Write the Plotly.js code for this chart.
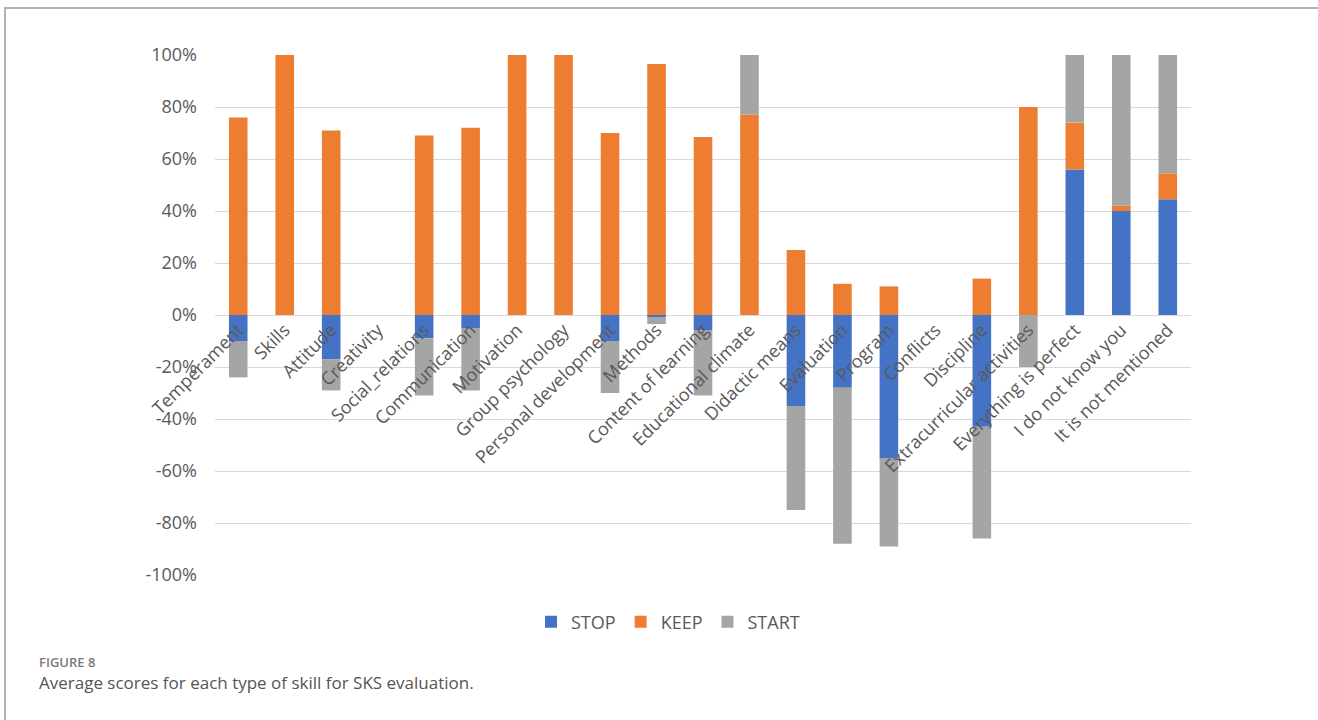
<!DOCTYPE html>
<html>
<head>
<meta charset="utf-8">
<script src="https://cdn.plot.ly/plotly-3.0.1.min.js"></script>
<style>
  html, body { margin: 0; padding: 0; background: #fff; }
  #wrap { position: relative; width: 1318px; height: 720px; }
  #chart { position: absolute; left: 0; top: 0; width: 1318px; height: 720px; }
  #frame { position: absolute; left: 4px; top: 7px; right: 0; bottom: 0;
           border-top: 2px solid #b3b3b3; border-left: 2px solid #b3b3b3; pointer-events: none; }
</style>
</head>
<body>
<div id="wrap">
  <div id="chart"></div>
  <div id="frame"></div>
</div>
<script>
const categories = [
  "Temperament", "Skills", "Attitude", "Creativity", "Social_relations",
  "Communication", "Motivation", "Group psychology", "Personal development",
  "Methods", "Content of learning", "Educational climate", "Didactic means",
  "Evaluation", "Program", "Conflicts", "Discipline", "Extracurricular activities",
  "Everything is perfect", "I do not know you", "It is not mentioned"
];
const stopValues = [
  -0.10, 0, -0.17, 0, -0.09,
  -0.05, 0, 0, -0.10,
  -0.01, -0.06, 0, -0.35,
  -0.28, -0.55, 0, -0.43, 0,
  0.56, 0.40, 0.445
];
const keepValues = [
  0.76, 1.00, 0.71, 0, 0.69,
  0.72, 1.00, 1.00, 0.70,
  0.965, 0.685, 0.77, 0.25,
  0.12, 0.11, 0, 0.14, 0.80,
  0.18, 0.02, 0.10
];
const startValues = [
  -0.14, 0, -0.12, 0, -0.22,
  -0.24, 0, 0, -0.20,
  -0.025, -0.25, 0.23, -0.40,
  -0.60, -0.34, 0, -0.43, -0.20,
  0.26, 0.58, 0.455
];
const yTickValues = [-1, -0.8, -0.6, -0.4, -0.2, 0, 0.2, 0.4, 0.6, 0.8, 1];
const yTickText = ["-100%", "-80%", "-60%", "-40%", "-20%", "0%", "20%", "40%", "60%", "80%", "100%"];
const seriesNames = ["STOP", "KEEP", "START"];
const seriesColors = ["#4472C4", "#ED7D31", "#A5A5A5"];
const captionLabel = "FIGURE 8";
const captionText = "Average scores for each type of skill for SKS evaluation.";

const allValues = [stopValues, keepValues, startValues];
const traces = allValues.map((vals, i) => ({
  type: "bar",
  name: seriesNames[i],
  x: categories,
  y: vals,
  marker: { color: seriesColors[i] },
  hoverinfo: "x+y+name"
}));

const W = 1318, H = 720;
const L = 215, R = 127, T = 55, B = 145;
const plotW = W - L - R, plotH = H - T - B;
const px = (x) => (x - L) / plotW;
const py = (y) => (H - B - y) / plotH;

const layout = {
  width: W, height: H,
  margin: { l: L, r: R, t: T, b: B, pad: 0 },
  paper_bgcolor: "#ffffff",
  plot_bgcolor: "#ffffff",
  barmode: "relative",
  bargap: 0.6,
  font: { family: "Open Sans, sans-serif", color: "#595959", size: 18 },
  xaxis: {
    type: "category",
    anchor: "free",
    position: 0.5,
    showgrid: false,
    showline: false,
    zeroline: false,
    ticks: "",
    tickangle: -45,
    tickfont: { family: "Open Sans, sans-serif", size: 18, color: "#595959" },
    automargin: false
  },
  yaxis: {
    range: [-1, 1],
    tickvals: yTickValues,
    ticktext: yTickText,
    showgrid: true,
    gridcolor: "#d9d9d9",
    gridwidth: 1,
    zeroline: true,
    zerolinecolor: "#d9d9d9",
    zerolinewidth: 1,
    showline: false,
    ticks: "",
    ticklabelstandoff: 17,
    tickfont: { family: "Open Sans, sans-serif", size: 18, color: "#595959" },
    automargin: false
  },
  showlegend: true,
  legend: {
    orientation: "h",
    traceorder: "normal",
    x: px(668), xanchor: "center",
    y: py(622), yanchor: "middle",
    font: { family: "Open Sans, sans-serif", size: 18, color: "#595959" },
    itemwidth: 30,
    bgcolor: "rgba(0,0,0,0)"
  },
  annotations: [
    {
      xref: "paper", yref: "paper",
      x: px(37), y: py(662), xanchor: "left", yanchor: "middle",
      text: captionLabel, showarrow: false,
      font: { family: "Open Sans, sans-serif", size: 13, color: "#7a7a7a", weight: 600 }
    },
    {
      xref: "paper", yref: "paper",
      x: px(37), y: py(682), xanchor: "left", yanchor: "middle",
      text: captionText, showarrow: false,
      font: { family: "Open Sans, sans-serif", size: 17, color: "#555555" }
    }
  ]
};

Plotly.newPlot("chart", traces, layout, { displayModeBar: false, responsive: false });
</script>
</body>
</html>
